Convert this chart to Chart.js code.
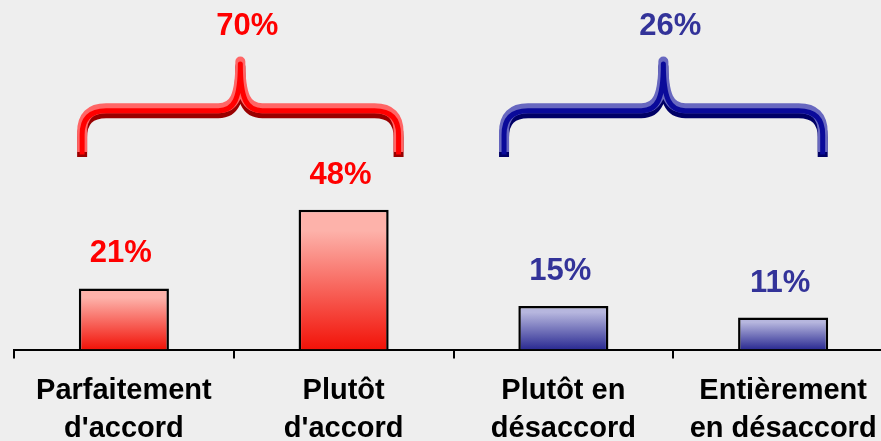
<!DOCTYPE html>
<html>
<head>
<meta charset="utf-8">
<script src="https://cdn.jsdelivr.net/npm/chart.js@4/dist/chart.umd.min.js"></script>
<style>
  html, body { margin: 0; padding: 0; background: #eeeeee; overflow: hidden; }
  #wrap { position: relative; width: 900px; height: 462px; }
</style>
</head>
<body>
<div id="wrap"><canvas id="barChart"></canvas></div>
<script>
// data
const categories = [
  ['Parfaitement', "d'accord"],
  ['Plutôt', "d'accord"],
  ['Plutôt en', 'désaccord'],
  ['Entièrement', 'en désaccord']
];
const values = [21, 48, 15, 11];
const barGroup = [0, 0, 1, 1];          // 0 = accord, 1 = désaccord
const groupTotals = [70, 26];

const FONT = '"Liberation Sans", Arial, sans-serif';

// colours per group: top of gradient, bottom of gradient, label, brace (light, main, dark)
const groupStyle = [
  { top: 'rgb(253,178,170)', bottom: 'rgb(242,18,8)', label: '#ff0000',
    light: '#ff6666', main: '#ff0000', dark: '#990000' },
  { top: 'rgb(182,182,222)', bottom: 'rgb(42,42,146)', label: '#333399',
    light: '#6868c0', main: '#0a0a9a', dark: '#000066' }
];

function barFill(ctx) {
  const chart = ctx.chart;
  const st = groupStyle[barGroup[ctx.dataIndex]];
  if (!chart.chartArea || !ctx.parsed) return st.bottom;
  const y = chart.scales.y;
  const top = y.getPixelForValue(ctx.parsed.y);
  const bot = y.getPixelForValue(0);
  const g = chart.ctx.createLinearGradient(0, top, 0, bot);
  g.addColorStop(0, st.top);
  g.addColorStop(0.15, st.top);
  g.addColorStop(1, st.bottom);
  return g;
}

function bracePath(c, x0, x1, yEnd, yArm, yTip) {
  const xm = (x0 + x1) / 2;
  const r = 24;
  c.beginPath();
  c.moveTo(x0, yEnd);
  c.lineTo(x0, yArm + r);
  c.quadraticCurveTo(x0, yArm, x0 + r, yArm);
  c.lineTo(xm - 22, yArm);
  c.bezierCurveTo(xm - 6, yArm, xm, yArm - 12, xm, yTip);
  c.bezierCurveTo(xm, yArm - 12, xm + 6, yArm, xm + 22, yArm);
  c.lineTo(x1 - r, yArm);
  c.quadraticCurveTo(x1, yArm, x1, yArm + r);
  c.lineTo(x1, yEnd);
}

const braces = {
  id: 'braces',
  afterDatasetsDraw(chart, args, opts) {
    const c = chart.ctx;
    const xs = chart.scales.x, ys = chart.scales.y;
    opts.spans.forEach((sp, gi) => {
      const st = groupStyle[gi];
      const x0 = xs.getPixelForValue(sp[0]);
      const x1 = xs.getPixelForValue(sp[1]);
      const yEnd = ys.getPixelForValue(opts.yEnd);
      const yArm = ys.getPixelForValue(opts.yArm);
      const yTip = ys.getPixelForValue(opts.yTip);
      c.save();
      c.lineJoin = 'round';
      c.lineCap = 'butt';
      [[st.dark, 10, 2.5], [st.light, 10, -2.5], [st.main, 5, 0]].forEach(([col, w, dy]) => {
        c.save();
        c.translate(0, dy);
        c.strokeStyle = col;
        c.lineWidth = w;
        bracePath(c, x0, x1, yEnd, yArm, yTip);
        c.stroke();
        c.restore();
      });
      // total above the brace
      c.fillStyle = st.label;
      c.font = 'bold 31px ' + FONT;
      c.textAlign = 'center';
      c.textBaseline = 'middle';
      c.fillText(groupTotals[gi] + '%', (x0 + x1) / 2 + 7, ys.getPixelForValue(opts.yLabel));
      c.restore();
    });
  }
};

const valueLabels = {
  id: 'valueLabels',
  afterDatasetsDraw(chart) {
    const c = chart.ctx;
    const meta = chart.getDatasetMeta(0);
    c.save();
    c.font = 'bold 31px ' + FONT;
    c.textAlign = 'center';
    c.textBaseline = 'bottom';
    meta.data.forEach((bar, i) => {
      c.fillStyle = groupStyle[barGroup[i]].label;
      c.fillText(values[i] + '%', bar.x - 3, bar.y - 19);
    });
    c.restore();
  }
};

const CHART = document.getElementById('barChart');
let barChart = new Chart(CHART, {
  type: 'bar',
  data: {
    labels: categories,
    datasets: [{
      data: values,
      backgroundColor: barFill,
      borderColor: '#000000',
      borderWidth: 2.5,
      barPercentage: 0.41,
      categoryPercentage: 1
    }]
  },
  options: {
    responsive: true,
    maintainAspectRatio: false,
    animation: false,
    layout: { padding: { left: 14, right: 7, top: 0, bottom: 0 } },
    plugins: {
      legend: { display: false },
      tooltip: { enabled: false },
      braces: { spans: [[-0.19, 1.25], [1.73, 3.18]], yEnd: 67, yArm: 82, yTip: 98, yLabel: 111 }
    },
    scales: {
      x: {
        offset: true,
        border: { display: true, color: '#000000', width: 2 },
        grid: { drawOnChartArea: false, drawTicks: true, tickLength: 9, color: '#000000', lineWidth: 2, offset: true },
        ticks: {
          color: '#000000',
          font: { family: FONT, size: 29, weight: 'bold', lineHeight: 1.3 },
          padding: 14,
          maxRotation: 0,
          autoSkip: false
        }
      },
      y: { display: false, min: 0, max: 120 }
    }
  },
  plugins: [braces, valueLabels]
});
</script>
</body>
</html>
